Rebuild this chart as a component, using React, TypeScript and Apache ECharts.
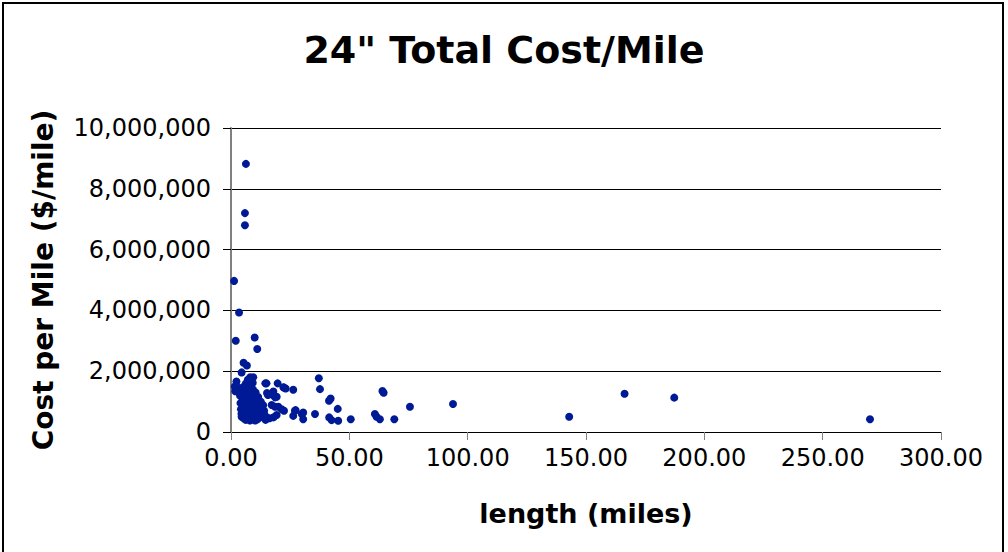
import React, { useEffect, useRef } from "react";
import * as echarts from "echarts";

const titleText = '24" Total Cost/Mile';
const xAxisName = "length (miles)";
const yAxisName = "Cost per Mile ($/mile)";

// length (miles)
const lengths: number[] = [
  6.3, 5.9, 5.9, 1.3, 3.4, 2.0, 10.0, 11.1, 5.3, 6.7, 4.5, 2.3, 1.8, 1.6,
  15.0, 19.7, 22.4, 26.3, 15.6, 17.7, 19.3, 9.4, 8.0, 27.3, 26.3, 29.9, 15.5,
  22.1, 23.1, 37.1, 37.6, 42.1, 41.4, 21.4, 22.4, 27.0, 30.5, 30.5, 35.5,
  45.1, 41.5, 42.5, 45.3, 50.6, 60.8, 61.5, 62.9, 64.0, 64.5, 69.0, 75.6,
  93.8, 142.9, 166.3, 187.3, 270.0, 17.9, 18.6, 17.2, 18.6, 20.0, 19.3, 17.9,
  14.5, 15.2, 15.2, 16.3,
  3.6, 3.8, 4.0, 4.2, 4.4, 4.5, 4.7, 4.9, 5.0, 5.2, 5.3, 5.5, 5.6, 5.8, 5.9,
  6.0, 6.2, 6.3, 6.4, 6.5, 6.7, 6.8, 7.0, 7.1, 7.2, 7.3, 7.5, 7.6, 7.7, 7.9,
  8.0, 8.1, 8.2, 8.4, 8.5, 8.6, 8.8, 8.9, 9.0, 9.2, 9.3, 9.5, 9.6, 9.7, 9.9,
  10.0, 10.2, 10.4, 10.5, 10.7, 10.9, 11.0, 11.2, 11.5, 11.7, 11.9, 12.1,
  12.3, 12.6, 12.8, 13.0, 13.3, 13.6, 14.0, 14.3, 14.6,
];

// cost per mile ($/mile)
const costs: number[] = [
  8820000, 7200000, 6800000, 4970000, 3930000, 3000000, 3110000, 2730000,
  2280000, 2190000, 1960000, 1660000, 1340000, 1500000, 1600000, 1600000,
  1460000, 1390000, 1220000, 1220000, 1160000, 1800000, 1710000, 720000,
  530000, 590000, 450000, 1470000, 1430000, 1770000, 1410000, 1100000, 1030000,
  750000, 700000, 700000, 640000, 420000, 590000, 760000, 480000, 390000,
  370000, 420000, 590000, 500000, 420000, 1350000, 1290000, 420000, 830000,
  920000, 500000, 1260000, 1130000, 420000, 1330000, 1140000, 890000, 830000,
  830000, 560000, 480000, 1600000, 1280000, 460000, 450000,
  1450000, 1200000, 950000, 750000, 600000, 500000, 1300000, 1050000, 850000,
  650000, 450000, 1500000, 1150000, 920000, 720000, 550000, 400000, 1600000,
  1350000, 1000000, 800000, 620000, 480000, 1720000, 1450000, 1250000,
  1050000, 880000, 680000, 520000, 380000, 1800000, 1550000, 1300000, 1100000,
  950000, 750000, 600000, 450000, 1620000, 1400000, 1200000, 1000000, 820000,
  650000, 500000, 380000, 1300000, 1100000, 900000, 700000, 550000, 420000,
  1150000, 950000, 780000, 600000, 480000, 1000000, 820000, 650000, 500000,
  880000, 700000, 550000, 400000,
];

const xTicks = { min: 0, max: 300, interval: 50 };
const yTicks = { min: 0, max: 10000000, interval: 2000000 };

const FONT = "DejaVu Sans, Verdana, sans-serif";

export default function App() {
  const ref = useRef<HTMLDivElement>(null);
  useEffect(() => {
    if (!ref.current) return;
    const chart = echarts.init(ref.current, undefined, { renderer: "svg" });
    const data = lengths.map((x, i) => [x, costs[i]]);
    chart.setOption({
      animation: false,
      backgroundColor: "#ffffff",
      title: {
        text: titleText,
        left: "center",
        top: 26,
        textStyle: { fontFamily: FONT, fontSize: 38, fontWeight: "bold", color: "#000" },
      },
      graphic: [
        {
          type: "rect",
          shape: { x: 3, y: 3, width: 1000, height: 570 },
          style: { fill: "none", stroke: "#000", lineWidth: 2 },
          silent: true,
        },
      ],
      grid: { left: 231, right: 67, top: 128, bottom: 120, containLabel: false },
      xAxis: {
        type: "value",
        min: xTicks.min,
        max: xTicks.max,
        interval: xTicks.interval,
        name: xAxisName,
        nameLocation: "middle",
        nameGap: 68,
        nameTextStyle: { fontFamily: FONT, fontSize: 27, fontWeight: "bold", color: "#000" },
        axisLine: { show: true, onZero: false, lineStyle: { color: "#000", width: 1 } },
        axisTick: { show: true, inside: false, length: 8, lineStyle: { color: "#808080" } },
        axisLabel: {
          fontFamily: FONT,
          fontSize: 24,
          color: "#000",
          margin: 14,
          formatter: (v: number) => v.toFixed(2),
        },
        splitLine: { show: false },
      },
      yAxis: {
        type: "value",
        min: yTicks.min,
        max: yTicks.max,
        interval: yTicks.interval,
        name: yAxisName,
        nameLocation: "middle",
        nameGap: 174,
        nameTextStyle: { fontFamily: FONT, fontSize: 28, fontWeight: "bold", color: "#000" },
        axisLine: { show: true, lineStyle: { color: "#808080", width: 2 } },
        axisTick: { show: true, inside: false, length: 8, lineStyle: { color: "#000" } },
        axisLabel: {
          fontFamily: FONT,
          fontSize: 24,
          color: "#000",
          margin: 20,
          formatter: (v: number) => v.toLocaleString("en-US"),
        },
        splitLine: { show: true, lineStyle: { color: "#000", width: 1 } },
      },
      series: [
        {
          type: "scatter",
          data,
          symbol: "circle",
          symbolSize: 8,
          itemStyle: { color: "#001a96", opacity: 1 },
        },
      ],
    });
    return () => chart.dispose();
  }, []);
  return (
    <div
      ref={ref}
      style={{ position: "absolute", left: 0, top: 0, width: 1008, height: 552 }}
    />
  );
}
